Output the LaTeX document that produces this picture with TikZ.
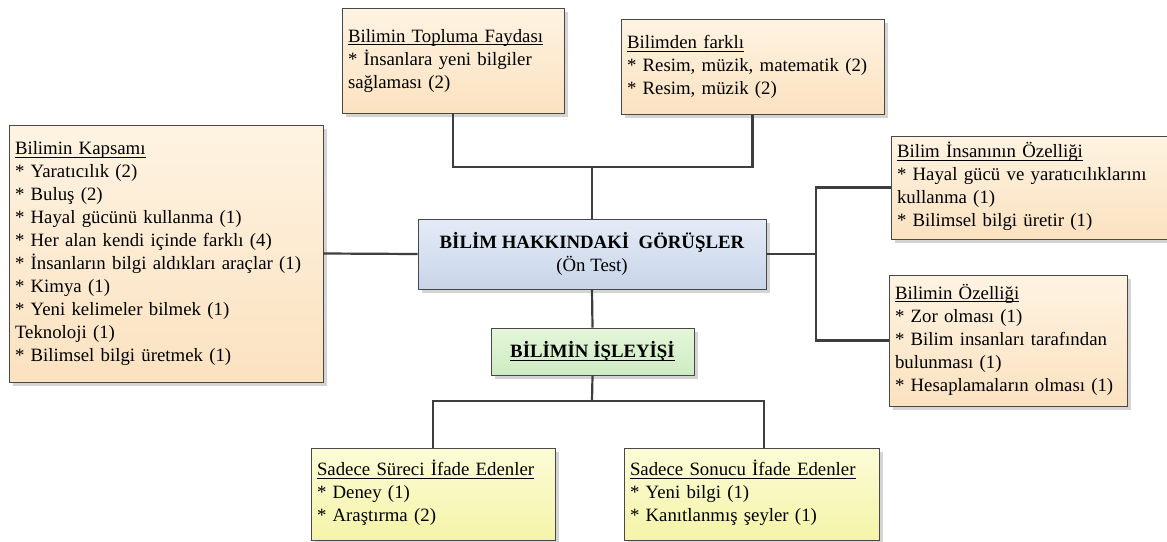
\documentclass[tikz,border=0pt]{standalone}
\usepackage{fontspec}
\setmainfont{Liberation Serif}
\usetikzlibrary{shadows}

\definecolor{boxline}{RGB}{72,72,72}
\definecolor{linkgray}{RGB}{62,62,62}
\definecolor{shadowgray}{RGB}{212,212,212}
\definecolor{otop}{RGB}{254,243,226}
\definecolor{obot}{RGB}{251,226,192}
\definecolor{btop}{RGB}{228,235,246}
\definecolor{bbot}{RGB}{200,213,232}
\definecolor{gtop}{RGB}{228,246,218}
\definecolor{gbot}{RGB}{206,236,194}
\definecolor{ytop}{RGB}{252,252,216}
\definecolor{ybot}{RGB}{244,244,168}

% underline at a fixed distance below the baseline
\newsavebox\ulbox
\newcommand\ulword[1]{\sbox\ulbox{#1}\rlap{\rule[-3pt]{\wd\ulbox}{0.9pt}}\usebox\ulbox}
% a block of lines that never rewraps
\newcommand\lineblock[1]{\begin{tabular}{@{}l@{}}#1\end{tabular}}

\tikzset{
  box/.style={draw=boxline, line width=0.9pt, inner xsep=6pt, inner ysep=0pt,
    font=\fontsize{18.8}{23}\selectfont,
    drop shadow={shadow xshift=3.5pt, shadow yshift=-3.5pt, fill=shadowgray, opacity=1}},
  listbox/.style={box, align=left},
  orangebox/.style={listbox, top color=otop, bottom color=obot},
  yellowbox/.style={listbox, top color=ytop, bottom color=ybot},
  mainbox/.style={box, align=center, top color=btop, bottom color=bbot},
  greenbox/.style={box, align=center, top color=gtop, bottom color=gbot},
  link/.style={draw=linkgray, line width=2.2pt}
}

\begin{document}
\begin{tikzpicture}[x=1pt, y=-1pt]
\useasboundingbox (0,0) rectangle (1167,541);

% central topic
\node[mainbox, minimum width=348pt, minimum height=70pt] (main) at (592,254)
  {\textbf{BİLİM HAKKINDAKİ~~GÖRÜŞLER}\\(Ön Test)};

% upper branches
\node[orangebox, minimum width=222pt, minimum height=105pt, text width=210pt] (fay) at (453,60.5)
  {\lineblock{\ulword{Bilimin Topluma Faydası}\\{}* İnsanlara yeni bilgiler\\sağlaması (2)}};
\node[orangebox, minimum width=263pt, minimum height=95pt, text width=251pt] (fark) at (752.5,67)
  {\lineblock{\ulword{Bilimden farklı}\\{}* Resim, müzik, matematik (2)\\{}* Resim, müzik (2)}};

% left branch
\node[orangebox, minimum width=314pt, minimum height=257pt, text width=302pt] (kap) at (166,253.5)
  {\lineblock{\ulword{Bilimin Kapsamı}\\{}* Yaratıcılık (2)\\{}* Buluş (2)\\{}* Hayal gücünü kullanma (1)\\{}* Her alan kendi içinde farklı (4)\\{}* İnsanların bilgi aldıkları araçlar (1)\\{}* Kimya (1)\\{}* Yeni kelimeler bilmek (1)\\Teknoloji (1)\\{}* Bilimsel bilgi üretmek (1)}};

% right branches (the upper one runs past the right margin)
\node[orangebox, minimum width=285pt, minimum height=103pt, text width=273pt] (ins) at (1033.5,187.5)
  {\lineblock{\ulword{Bilim İnsanının Özelliği}\\{}* Hayal gücü ve yaratıcılıklarını\\kullanma (1)\\{}* Bilimsel bilgi üretir (1)}};
\node[orangebox, minimum width=238pt, minimum height=131pt, text width=226pt] (ozel) at (1008,340.5)
  {\lineblock{\ulword{Bilimin Özelliği}\\{}* Zor olması (1)\\{}* Bilim insanları tarafından\\bulunması (1)\\{}* Hesaplamaların olması (1)}};

% process branch
\node[greenbox, minimum width=203pt, minimum height=47pt] (isl) at (592.5,351.5)
  {\textbf{\ulword{BİLİMİN İŞLEYİŞİ}}};
\node[yellowbox, minimum width=244pt, minimum height=92pt, text width=232pt] (sur) at (433,494)
  {\lineblock{\ulword{Sadece Süreci İfade Edenler}\\{}* Deney (1)\\{}* Araştırma (2)}};
\node[yellowbox, minimum width=255pt, minimum height=92pt, text width=243pt] (son) at (751.5,494)
  {\lineblock{\ulword{Sadece Sonucu İfade Edenler}\\{}* Yeni bilgi (1)\\{}* Kanıtlanmış şeyler (1)}};

% junction points of the connector trees
\coordinate (topbus) at (592,167);
\coordinate (rbus) at (816,254);
\coordinate (bbus) at (592,401);
\coordinate (sonin) at ([xshift=12.5pt]son.north);

% connectors
\draw[link] (fay.south) -- (fay.south |- topbus) -- (fark.south |- topbus) -- (fark.south);
\draw[link] (topbus) -- (main.north);
\draw[link] (kap.east) -- (main.west);
\draw[link] (main.east) -- (rbus);
\draw[link] (ins.west) -| (rbus) |- (ozel.west);
\draw[link] (main.south) -- (isl.north);
\draw[link] (isl.south) -- (bbus);
\draw[link] (sur.north) -- (sur.north |- bbus) -- (sonin |- bbus) -- (sonin);
\end{tikzpicture}
\end{document}
